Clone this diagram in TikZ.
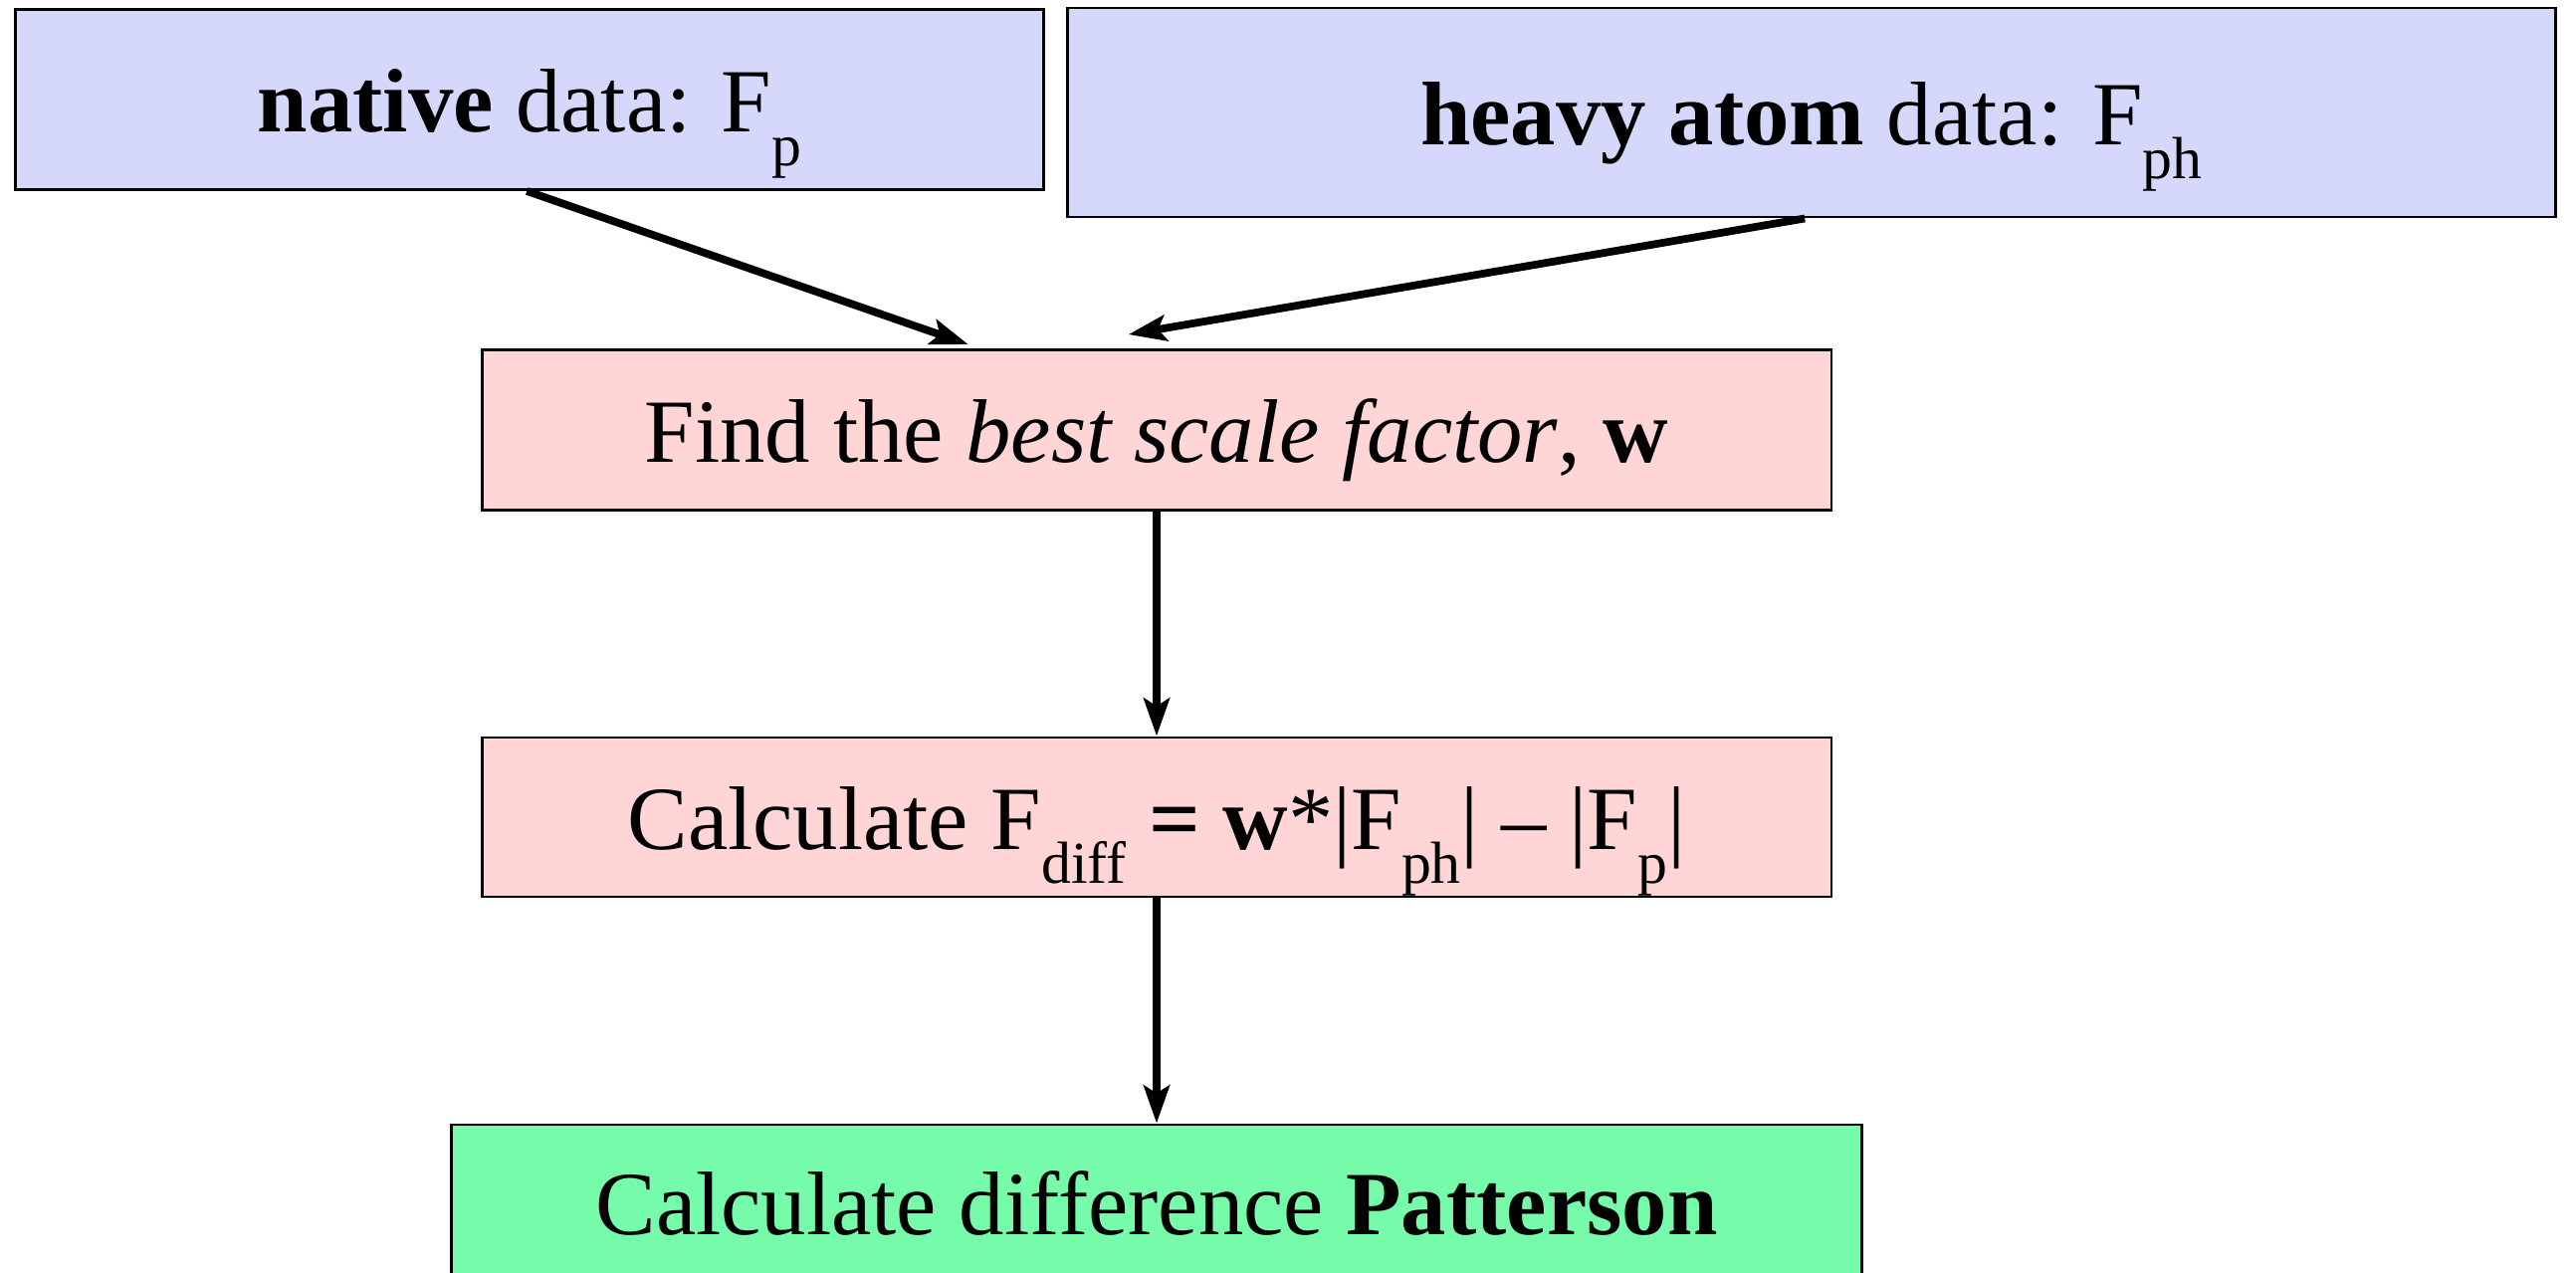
\documentclass[tikz,border=0pt]{standalone}
\usepackage{fontspec}
\setmainfont{Liberation Serif}
\usetikzlibrary{arrows.meta,calc}
\definecolor{boxblue}{RGB}{213,215,251}
\definecolor{boxpink}{RGB}{255,213,213}
\definecolor{boxgreen}{RGB}{118,251,170}
\newcommand{\lowsub}[1]{\raisebox{-0.38em}{\fontsize{17}{20}\selectfont #1}}
\tikzset{
  flowbox/.style={draw=black, line width=0.8pt, rectangle, inner sep=0pt,
    text height=0.8cm, text depth=0.16cm,
    font=\fontsize{25.8}{30}\selectfont, anchor=center},
  arr/.style={-{Stealth[length=0.38cm,width=0.26cm,inset=0.08cm]}, line width=2.2pt}
}
\begin{document}
\begin{tikzpicture}[x=0.01cm,y=-0.01cm]
\useasboundingbox (0,0) rectangle (2588,1278);
\node[flowbox, fill=boxblue, minimum width=10.32cm, minimum height=1.81cm] (native) at (532,100)
  {\textbf{native} data: F\lowsub{p}};
\node[flowbox, fill=boxblue, minimum width=14.94cm, minimum height=2.10cm] (heavy) at (1820,113)
  {\textbf{heavy atom} data: F\lowsub{ph}};
\node[flowbox, fill=boxpink, minimum width=13.55cm, minimum height=1.61cm] (find) at (1162,432)
  {Find the \textit{best scale factor}, \textbf{w}};
\node[flowbox, fill=boxpink, minimum width=13.55cm, minimum height=1.60cm] (calc) at (1162,821)
  {Calculate F\lowsub{diff} \textbf{= w}*|F\lowsub{ph}| – |F\lowsub{p}|};
\node[flowbox, fill=boxgreen, minimum width=14.16cm, minimum height=1.56cm] (patt) at (1162,1208)
  {Calculate difference \textbf{Patterson}};
\draw[arr] ($(native.south west)+(515,0)$) -- ($(find.north west)+(490,-4)$);
\draw[arr] ($(heavy.south west)+(742,0)$) -- ($(find.north west)+(651,-14)$);
\draw[arr] (find.south) -- (calc.north);
\draw[arr] (calc.south) -- (patt.north);
\end{tikzpicture}
\end{document}
